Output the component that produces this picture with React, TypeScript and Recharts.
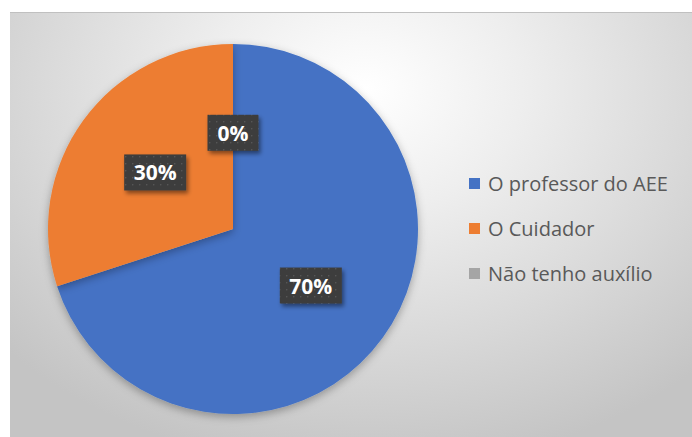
import { PieChart, Pie, Cell, Legend } from "recharts";

const categories = ["O professor do AEE", "O Cuidador", "Não tenho auxílio"];
const shares = [70, 30, 0];
const colors = ["#4472C4", "#ED7D31", "#A5A5A5"];

const data = categories.map((name, i) => ({ name, value: shares[i] }));

const RAD = Math.PI / 180;

function BoxLabel(props: any) {
  const { cx, cy, midAngle, outerRadius, index } = props;
  const r = outerRadius * 0.52;
  const x = cx + r * Math.cos(-midAngle * RAD);
  const y = cy + r * Math.sin(-midAngle * RAD);
  const text = `${shares[index]}%`;
  const w = 29 + 11 * text.length;
  const h = 36;
  return (
    <g>
      <rect
        x={x - w / 2}
        y={y - h / 2}
        width={w}
        height={h}
        fill="url(#dots)"
        filter="url(#boxShadow)"
      />
      <text
        x={x}
        y={y}
        textAnchor="middle"
        dominantBaseline="central"
        fill="#ffffff"
        fontSize={21}
        fontWeight="bold"
        fontFamily="'Open Sans', sans-serif"
      >
        {text}
      </text>
    </g>
  );
}

function LegendList() {
  return (
    <div style={{ fontFamily: "'Open Sans', sans-serif", fontSize: 20, color: "#595959" }}>
      {data.map((d, i) => (
        <div key={d.name} style={{ height: 45, display: "flex", alignItems: "center", whiteSpace: "nowrap" }}>
          <span
            style={{
              display: "inline-block",
              width: 11,
              height: 11,
              background: colors[i],
              marginRight: 8,
            }}
          />
          {d.name}
        </div>
      ))}
    </div>
  );
}

export default function App() {
  return (
    <div style={{ position: "absolute", left: 0, top: 0, width: 692, height: 437, background: "#fff" }}>
      <div
        style={{
          position: "absolute",
          left: 10,
          top: 12,
          width: 682,
          height: 425,
          borderTop: "1px solid #c0c0c0",
          boxSizing: "border-box",
          background:
            "radial-gradient(ellipse 72% 90% at 52% 18%, #ffffff 0%, #eeeeee 32%, #d8d8d8 68%, #c4c4c4 100%)",
        }}
      >
        <PieChart width={682} height={424}>
          <defs>
            <pattern id="dots" width="7" height="7" patternUnits="userSpaceOnUse">
              <rect width="7" height="7" fill="#3c3c3c" />
              <rect x="3" y="3" width="1.4" height="1.4" fill="#575757" />
            </pattern>
            <filter id="boxShadow" x="-20%" y="-20%" width="150%" height="160%">
              <feDropShadow dx="2" dy="3" stdDeviation="2" floodColor="#000" floodOpacity="0.45" />
            </filter>
            <filter id="pieShadow" x="-10%" y="-10%" width="120%" height="125%">
              <feDropShadow dx="0" dy="3" stdDeviation="4" floodColor="#000" floodOpacity="0.3" />
            </filter>
          </defs>
          <Pie
            data={data}
            dataKey="value"
            nameKey="name"
            cx={218}
            cy={211}
            outerRadius={185}
            startAngle={90}
            endAngle={-270}
            stroke="none"
            labelLine={false}
            label={BoxLabel}
            isAnimationActive={false}
            style={{ filter: "url(#pieShadow)" }}
          >
            {data.map((d, i) => (
              <Cell key={d.name} fill={colors[i]} />
            ))}
          </Pie>
          <Legend
            content={<LegendList />}
            wrapperStyle={{ left: 459, top: 148, width: 225 }}
          />
        </PieChart>
      </div>
    </div>
  );
}
